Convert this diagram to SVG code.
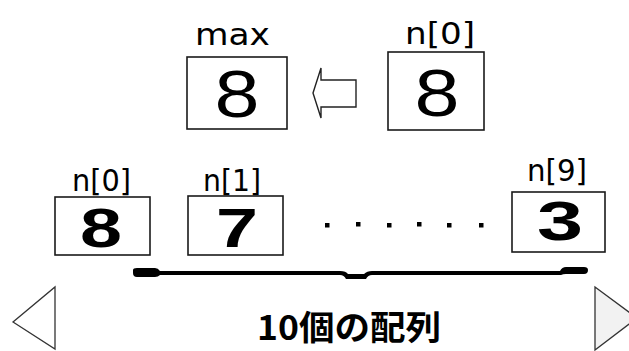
<svg xmlns="http://www.w3.org/2000/svg" width="629" height="351" viewBox="0 0 629 351">
  <style>
    .box { fill: #ffffff; stroke: #1a1a1a; stroke-width: 1.6; }
    .lbl { font-family: "DejaVu Sans", "Liberation Sans", sans-serif; font-size: 31px; fill: #000; }
    .big { font-family: "Liberation Sans", Arial, sans-serif; font-size: 66px; fill: #000; text-anchor: middle; }
    .val { font-family: "Liberation Sans", Arial, sans-serif; font-weight: bold; font-size: 56px; fill: #000; text-anchor: middle; }
    .cap { font-family: "Noto Sans CJK JP", "Noto Sans CJK SC", sans-serif; font-weight: bold; font-size: 34px; fill: #000; }
    .dot { fill: #000; }
    .tri { stroke: #333; stroke-width: 1.3; }
  </style>

  <rect width="629" height="351" fill="#ffffff"/>

  <!-- variable max -->
  <g id="max">
    <text class="lbl" x="195" y="45" textLength="75" lengthAdjust="spacingAndGlyphs">max</text>
    <rect class="box" x="187" y="57" width="100" height="72"/>
    <text class="big" x="237" y="117" textLength="45" lengthAdjust="spacingAndGlyphs">8</text>
  </g>

  <!-- first element shown on top -->
  <g id="n0-top">
    <text class="lbl" x="405" y="44" textLength="70" lengthAdjust="spacingAndGlyphs">n[0]</text>
    <rect class="box" x="388" y="52" width="96" height="78"/>
    <text class="big" x="437" y="116" textLength="45" lengthAdjust="spacingAndGlyphs">8</text>
  </g>

  <!-- array elements -->
  <g id="n0">
    <text class="lbl" x="72" y="191" textLength="59" lengthAdjust="spacingAndGlyphs">n[0]</text>
    <rect class="box" x="55" y="197" width="95" height="58"/>
    <text class="val" x="101" y="247" textLength="42" lengthAdjust="spacingAndGlyphs">8</text>
  </g>
  <g id="n1">
    <text class="lbl" x="203" y="191" textLength="58" lengthAdjust="spacingAndGlyphs">n[1]</text>
    <rect class="box" x="188" y="196" width="95" height="59"/>
    <text class="val" x="237" y="247" textLength="42" lengthAdjust="spacingAndGlyphs">7</text>
  </g>
  <g id="n9">
    <text class="lbl" x="527" y="181" textLength="60" lengthAdjust="spacingAndGlyphs">n[9]</text>
    <rect class="box" x="512" y="192" width="93" height="60"/>
    <text class="val" x="560" y="240" textLength="46" lengthAdjust="spacingAndGlyphs">3</text>
  </g>

  <!-- ellipsis between elements -->
  <g id="ellipsis">
    <rect class="dot" x="325" y="223" width="4.5" height="4.5"/>
    <rect class="dot" x="356" y="222" width="4.5" height="4.5"/>
    <rect class="dot" x="387" y="223" width="4.5" height="4.5"/>
    <rect class="dot" x="417" y="222" width="4.5" height="4.5"/>
    <rect class="dot" x="447" y="223" width="4.5" height="4.5"/>
    <rect class="dot" x="479" y="223" width="4.5" height="4.5"/>
  </g>

  <g id="connectors">
    <!-- hollow block arrow: n[0] copied into max -->
    <polygon points="313,93 321,68 321,80 356,80 356,107 321,107 321,118" fill="#ffffff" stroke="#222" stroke-width="1.4" stroke-linejoin="miter"/>
    <!-- brace spanning the array -->
    <path d="M133,270 Q133,268 137,268 L155,268 Q158,268 160,271 L340,271 Q346,271 348,274 L364,274 Q367,271 372,271 L560,271 Q562,267 566,267 L584,267 Q588,267 588,270 Q588,274 584,274 L566,274 Q563,274 561,275 L372,275 Q368,275 366,279 L346,279 Q344,275 340,275 L160,275 Q158,277 155,277 L137,277 Q133,277 133,273 Z" fill="#000"/>
  </g>

  <!-- array caption -->
  <g id="caption">
    <text class="cap" x="257" y="340" textLength="184" lengthAdjust="spacingAndGlyphs">10個の配列</text>
  </g>

  <!-- scroll triangles -->
  <g id="prev">
    <polygon class="tri" points="13,322 55,287 55,349" fill="#ffffff"/>
  </g>
  <g id="next">
    <polygon class="tri" points="595,287 637,318 595,350" fill="#f2f2f2"/>
  </g>
</svg>
